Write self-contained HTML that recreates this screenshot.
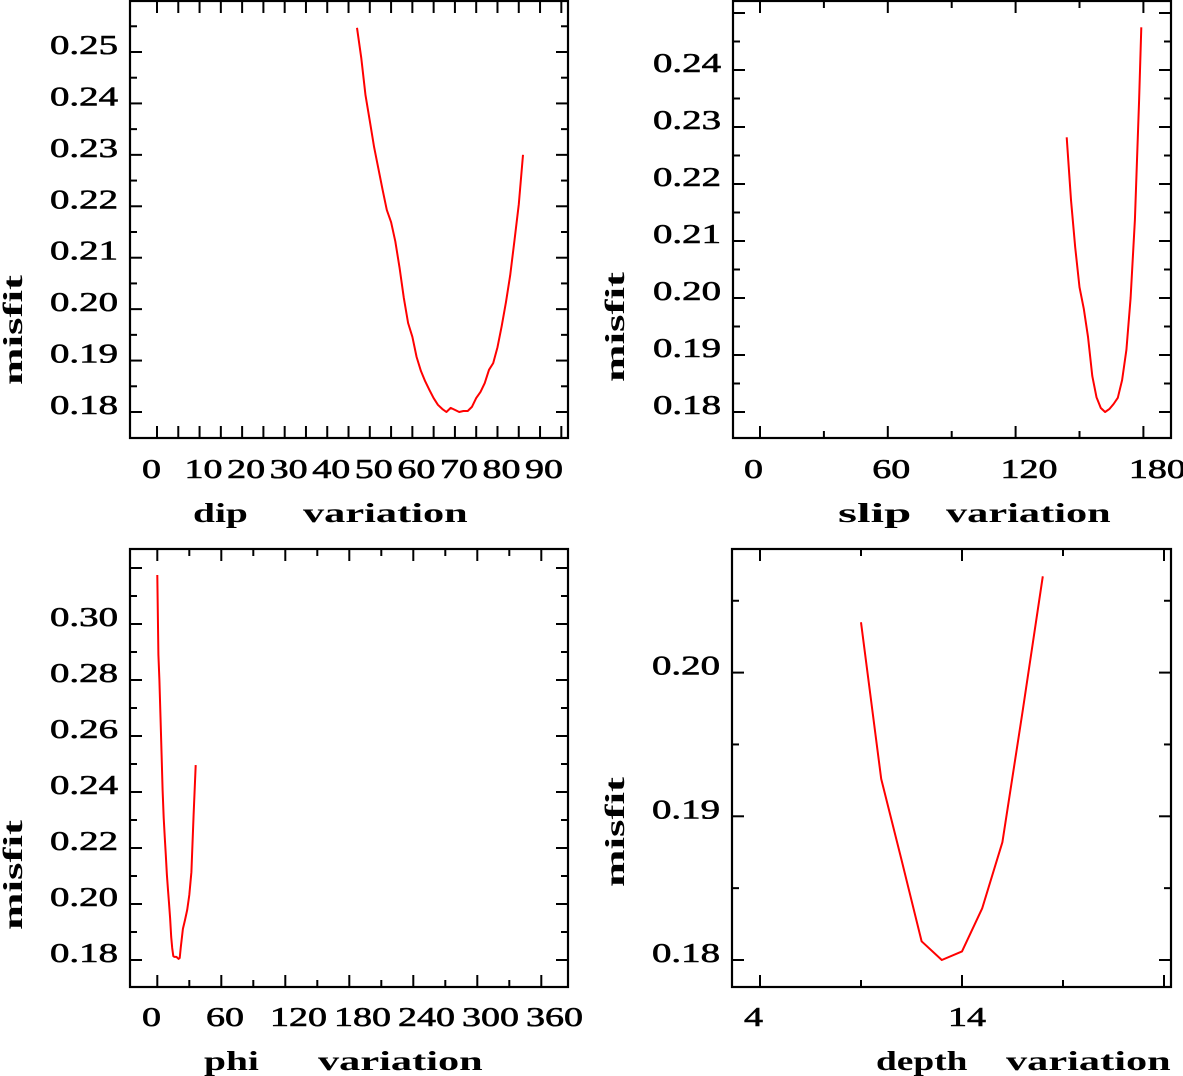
<!DOCTYPE html>
<html><head><meta charset="utf-8"><style>
html,body{margin:0;padding:0;background:#fff;}
svg{display:block;}
text{font-family:"Liberation Serif",serif;fill:#000;}
</style></head><body>
<svg id="fig" width="1183" height="1076" viewBox="0 0 1183 1076" xmlns="http://www.w3.org/2000/svg"></svg>
<script>
// ---- data ----
const dipX = [47,48,49,50,51,52,53,54,55,56,57,58,59,60,61,62,63,64,65,66,67,68,69,70,71,72,73,74,75,76,77,78,79,80,81,82,83,84,85,86];
const dipY = [0.2547,0.2488,0.2416,0.2366,0.2315,0.2274,0.2232,0.2193,0.2169,0.2132,0.2080,0.2022,0.1973,0.1946,0.1907,0.1880,0.1860,0.1843,0.1827,0.1814,0.1806,0.1800,0.1808,0.1804,0.1800,0.1802,0.1802,0.1810,0.1827,0.1839,0.1856,0.1882,0.1895,0.1926,0.1967,0.2014,0.2066,0.2134,0.2204,0.2300];
const slipX = [144,146,148,150,152,154,156,158,160,162,164,166,168,170,172,174,176,178,179];
const slipY = [0.2282,0.2172,0.2089,0.2019,0.1981,0.1932,0.1863,0.1826,0.1807,0.1800,0.1805,0.1814,0.1825,0.1856,0.1909,0.2000,0.2137,0.2347,0.2475];
const phiX = [0,1,2,3,4,5,6,7,8,9,10,11,12,13,14,15,16,17,18,19,20,21,22,24,26,28,30,32,34,36];
const phiY = [0.3175,0.289,0.280,0.2668,0.2532,0.2407,0.2307,0.2236,0.2175,0.2104,0.2050,0.2004,0.1950,0.1882,0.1843,0.1814,0.1811,0.1811,0.1811,0.1807,0.1804,0.1807,0.1846,0.1911,0.1943,0.1979,0.2032,0.2114,0.2318,0.2496];
const depthX = [9,10,11,12,13,14,15,16,17,18];
const depthY = [0.2035,0.1926,0.1870,0.1813,0.1800,0.1806,0.1836,0.1882,0.1973,0.2067];
const dipTicks = ["0","10","20","30","40","50","60","70","80","90"];
const slipTicks = ["0","60","120","180"];
const phiTicks = ["0","60","120","180","240","300","360"];
const depthTicks = ["4","14"];
const dipYTicks = ["0.18","0.19","0.20","0.21","0.22","0.23","0.24","0.25"];
const slipYTicks = ["0.18","0.19","0.20","0.21","0.22","0.23","0.24"];
const phiYTicks = ["0.18","0.20","0.22","0.24","0.26","0.28","0.30"];
const depthYTicks = ["0.18","0.19","0.20"];

const NS = "http://www.w3.org/2000/svg";
const svg = document.getElementById('fig');
function el(tag, attrs, parent){ const e=document.createElementNS(NS,tag); for(const k in attrs) e.setAttribute(k,attrs[k]); (parent||svg).appendChild(e); return e; }
function txtW(s){ let w=0; for(const c of s) w += (c==='.')?11:19; return w; }

function panel(cfg){
  const g = el('g',{});
  
  
  const {L,R,T,B} = cfg;
  const sx = v => cfg.x0px + (v-cfg.x0)*cfg.xs;
  const lx = v => cfg.lab0 + (v-cfg.x0)*cfg.labs;
  const sy = v => cfg.y0px - (v-cfg.y0)*cfg.ys;
  const frame = el('rect',{x:L,y:T,width:R-L,height:B-T,fill:'none',stroke:'#000','stroke-width':2.2},g);
  
  
  for(let v=cfg.xtStart; sx(v)<R-1; v+=cfg.xtStep){
    const major = cfg.xMajor(v); const len = major?12:7; const x=sx(v);
    el('line',{x1:x,x2:x,y1:B,y2:B-len,stroke:'#000','stroke-width':2},g);
    el('line',{x1:x,x2:x,y1:T,y2:T+len,stroke:'#000','stroke-width':2},g);
  }
  for(let i=0;;i++){
    const v = cfg.y0 + i*cfg.ytStep; const y = sy(v);
    if(y<T+1) break;
    const major = (i % 2 === 0); const len = major?12:7;
    el('line',{x1:L,x2:L+len,y1:y,y2:y,stroke:'#000','stroke-width':2},g);
    el('line',{x1:R,x2:R-len,y1:y,y2:y,stroke:'#000','stroke-width':2},g);
  }
  cfg.xLabels.forEach(s=>{
    const t = el('text',{x:lx(parseFloat(s)),y:cfg.xLabY,'font-size':27,'text-anchor':'start',textLength:txtW(s),lengthAdjust:'spacingAndGlyphs',stroke:'#000','stroke-width':0.6},g);
    t.textContent = s;
    
    
  });
  cfg.yLabels.forEach(s=>{
    const t = el('text',{x:L-12,y:sy(parseFloat(s))+2,'font-size':27,'text-anchor':'end',textLength:txtW(s),lengthAdjust:'spacingAndGlyphs',stroke:'#000','stroke-width':0.6},g);
    t.textContent = s;
    
    
  });
  cfg.title.forEach(w=>{
    const t = el('text',{x:w[1],y:cfg.titleY,'font-size':27,'font-weight':'bold',textLength:w[0].length*18.3,lengthAdjust:'spacingAndGlyphs'},g);
    t.textContent = w[0];
    
    
  });
  const yt = el('text',{x:0,y:0,'font-size':27,'font-weight':'bold','text-anchor':'middle',textLength:110,lengthAdjust:'spacingAndGlyphs',transform:`translate(${cfg.ytX},${cfg.ytY}) rotate(-90)`},g);
  yt.textContent = 'misfit';
  
  
  const pts = cfg.xs_.map((x,i)=>sx(x).toFixed(1)+','+sy(cfg.ys_[i]).toFixed(1)).join(' ');
  const pl = el('polyline',{points:pts,fill:'none',stroke:'#ff0000','stroke-width':2,'stroke-linejoin':'round'},g);
  
  
}

panel({name:'dip',L:130,R:568,T:1,B:438,x0:0,x0px:157,xs:4.256,lab0:142,labs:4.256,y0:0.18,y0px:412,ys:5143,
  xtStart:0,xtStep:5,xMajor:v=>true,ytStep:0.005,xLabels:dipTicks,yLabels:dipYTicks,xLabY:478,
  title:[['dip',193],['variation',303]],titleY:522,ytX:22,ytY:330,xs_:dipX,ys_:dipY});
panel({name:'slip',L:733,R:1171,T:1,B:438,x0:0,x0px:760,xs:63.9/30,lab0:744,labs:2.138,y0:0.18,y0px:412,ys:5700,
  xtStart:0,xtStep:30,xMajor:v=>v%60===0,ytStep:0.005,xLabels:slipTicks,yLabels:slipYTicks,xLabY:478,
  title:[['slip',838],['variation',946]],titleY:522,ytX:624,ytY:327,xs_:slipX,ys_:slipY});
panel({name:'phi',L:130,R:568,T:549,B:987,x0:0,x0px:157.3,xs:32/30,lab0:142,labs:1.0667,y0:0.18,y0px:960,ys:2800,
  xtStart:0,xtStep:30,xMajor:v=>v%60===0,ytStep:0.01,xLabels:phiTicks,yLabels:phiYTicks,xLabY:1026,
  title:[['phi',204],['variation',318]],titleY:1070,ytX:22,ytY:875,xs_:phiX,ys_:phiY});
panel({name:'depth',L:732,R:1171,T:549,B:987,x0:4,x0px:760,xs:20.2,lab0:744,labs:20.4,y0:0.18,y0px:960,ys:14370,
  xtStart:4,xtStep:5,xMajor:v=>(v-4)%10===0,ytStep:0.005,xLabels:depthTicks,yLabels:depthYTicks,xLabY:1026,
  title:[['depth',876],['variation',1006]],titleY:1070,ytX:624,ytY:832,xs_:depthX,ys_:depthY});
</script>
</body></html>
